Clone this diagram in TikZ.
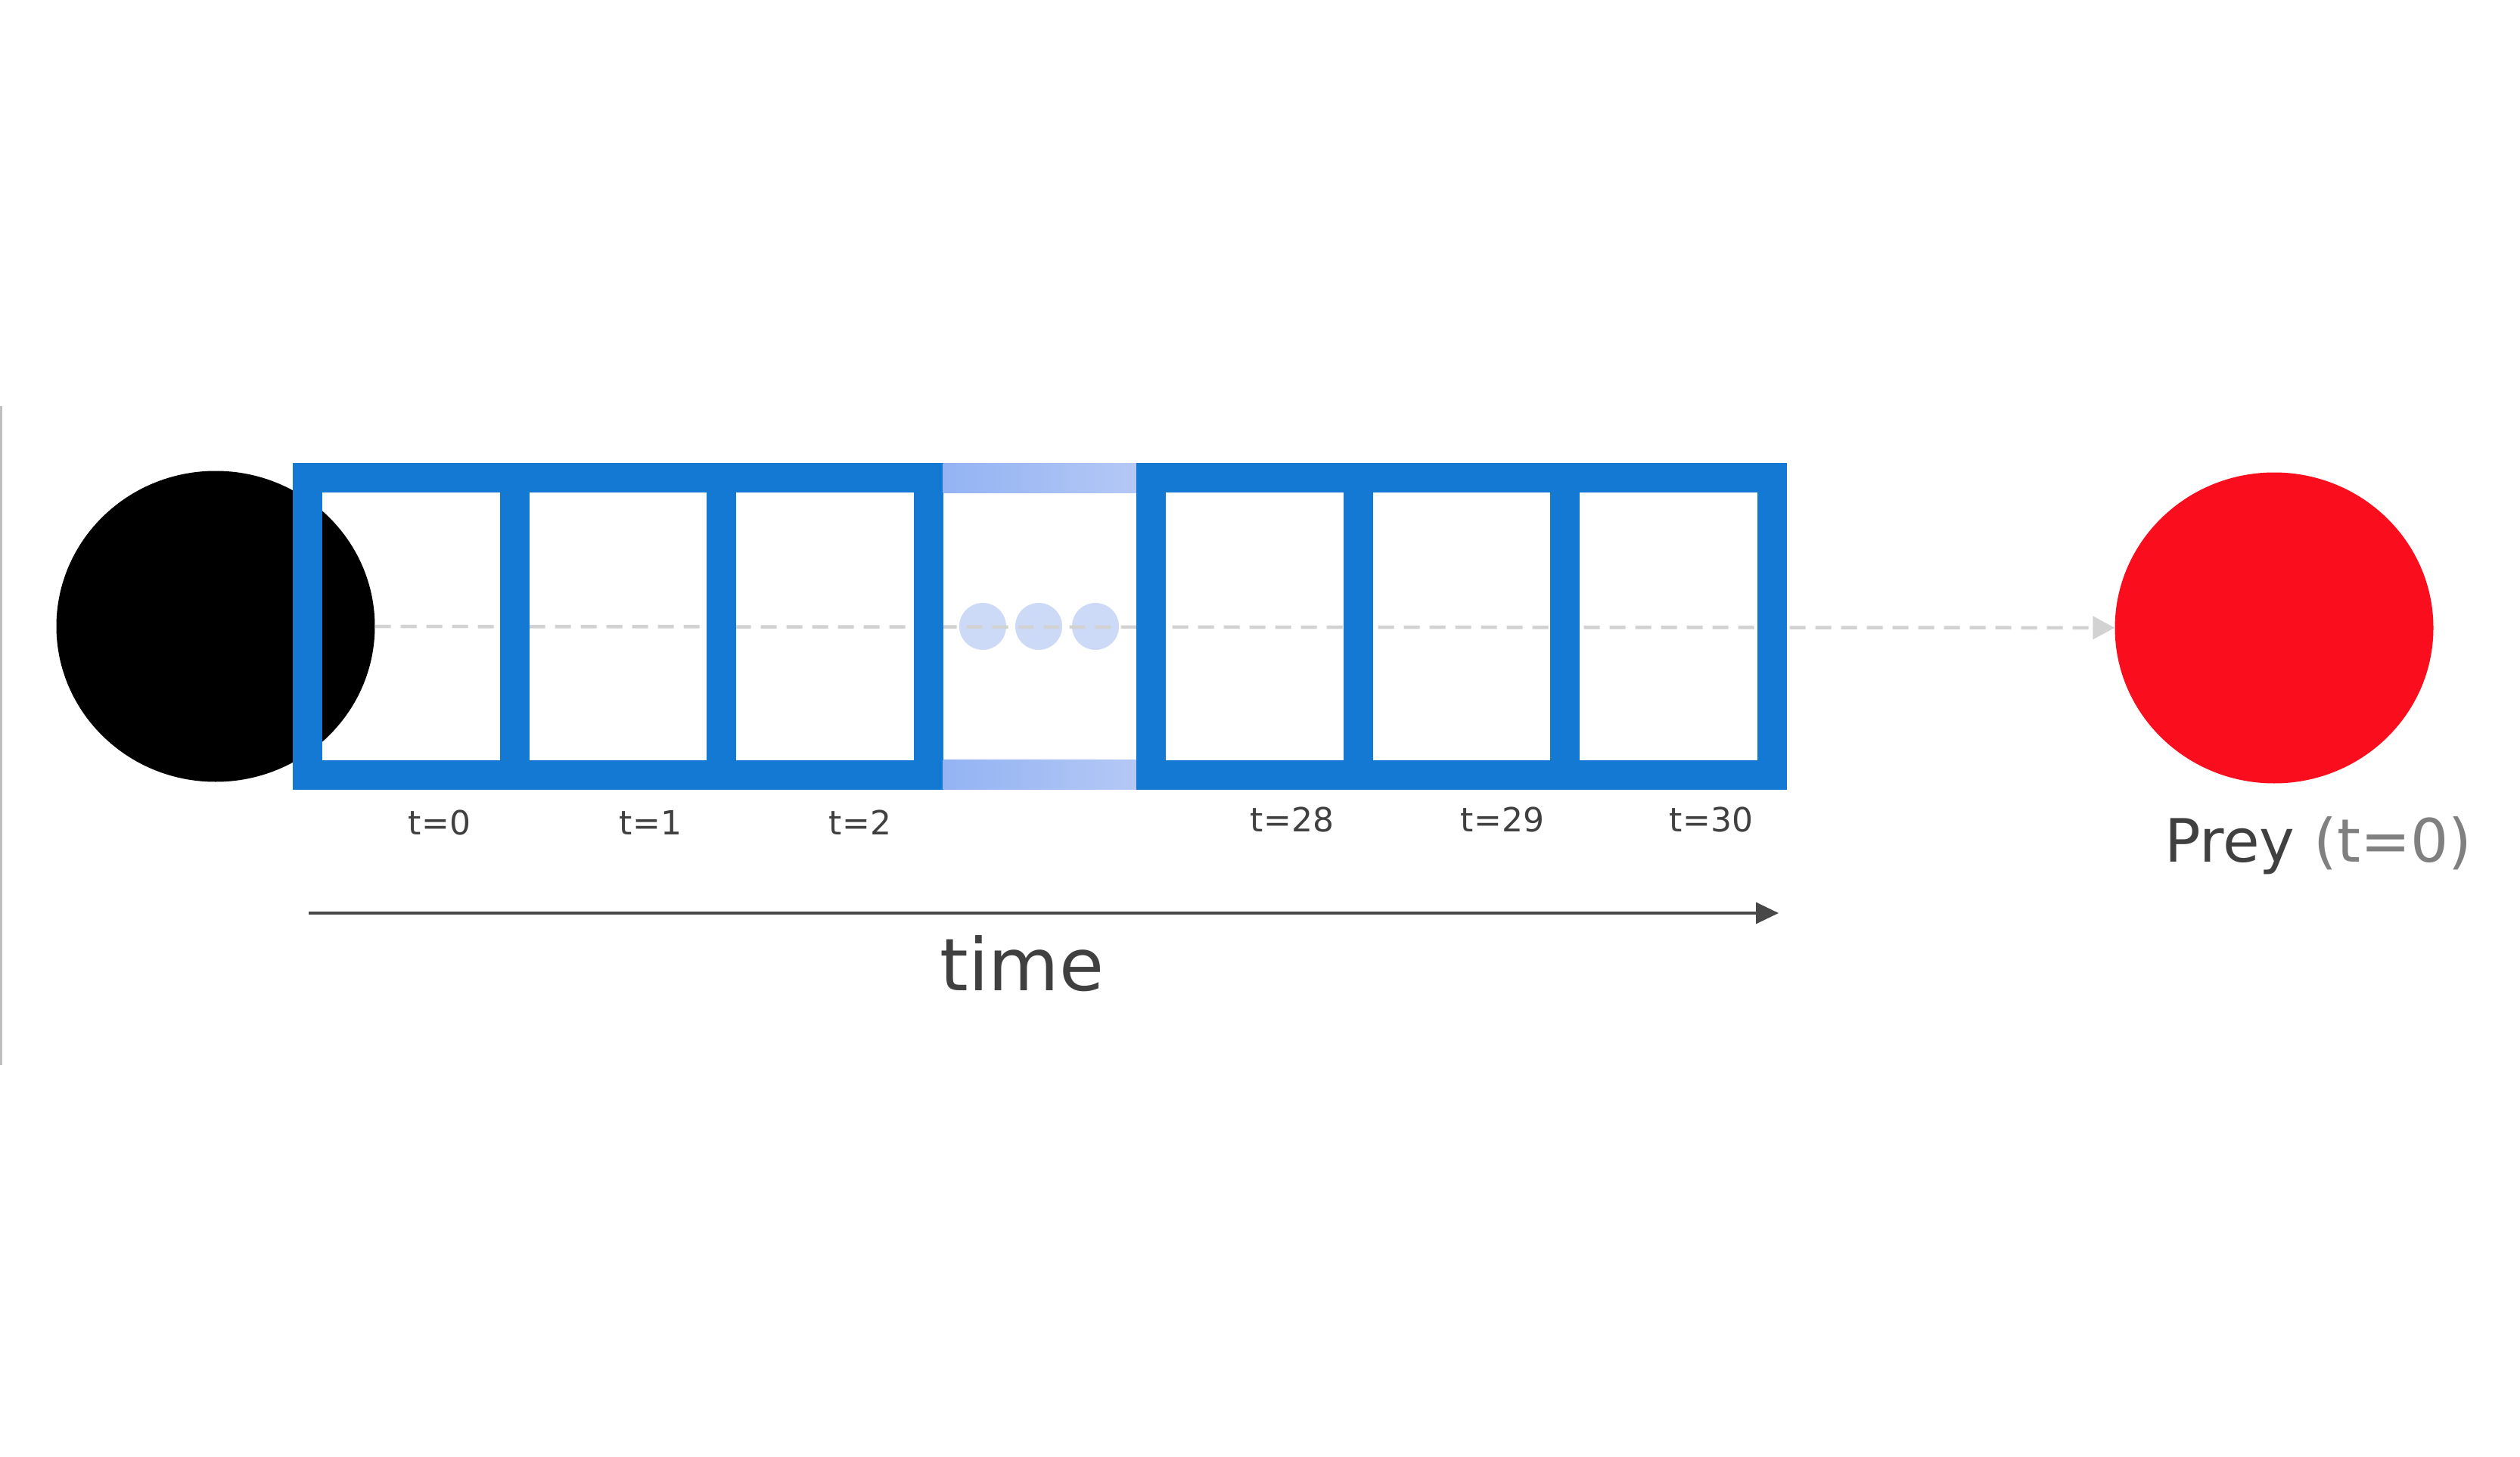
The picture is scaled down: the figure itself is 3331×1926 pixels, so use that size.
\documentclass[tikz,border=0pt]{standalone}
\usepackage{fontspec}
\setmainfont{DejaVu Sans}
\usetikzlibrary{arrows.meta,shapes.geometric}
\definecolor{frameblue}{RGB}{20,121,211}
\definecolor{gradL}{RGB}{147,179,243}
\definecolor{gradR}{RGB}{180,200,245}
\definecolor{dotblue}{RGB}{204,218,247}
\definecolor{preyred}{RGB}{250,13,29}
\definecolor{dashgrey}{RGB}{210,210,210}
\definecolor{txtdark}{RGB}{64,64,64}
\definecolor{txtgrey}{RGB}{128,128,128}
\definecolor{axisgrey}{RGB}{72,72,72}
\tikzset{
  cell/.style={draw=frameblue, line width=39pt, minimum width=273.5pt, minimum height=392.5pt, inner sep=0pt, shape=rectangle},
  ball/.style={ellipse, inner sep=0pt, minimum width=421pt, minimum height=411pt},
  tlabel/.style={anchor=base, text=txtdark, font=\fontsize{44}{50}\selectfont, inner sep=0pt},
  dotnode/.style={circle, fill=dotblue, inner sep=0pt, minimum size=62pt},
  band/.style={left color=gradL, right color=gradR, draw=none}
}
\begin{document}
\begin{tikzpicture}[x=1pt,y=-1pt]
\useasboundingbox (0,0) rectangle (3331,1926);
\fill[white] (0,0) rectangle (3331,1926);
% thin left rule
\draw[line width=2.5pt, color=black!25] (1.5,537) -- (1.5,1408);
% agents
\node[ball, fill=black] (hunter) at (285,828) {};
\node[ball, fill=preyred] (prey) at (3006,830) {};
% ellipsis dots
\node[dotnode] (d1) at (1299,828) {};
\node[dotnode] (d2) at (1373,828) {};
\node[dotnode] (d3) at (1448,828) {};
% dashed connector
\draw[dashgrey, line width=4.5pt, dash pattern=on 21pt off 13pt, -{Triangle[length=29pt,width=30pt]}] (hunter) -- (prey);
% cells
\node[cell] (c0) at (543.7,827.75) {};
\node[cell] (c1) at (817,827.75) {};
\node[cell] (c2) at (1090.3,827.75) {};
\node[cell] (c28) at (1658.5,827.75) {};
\node[cell] (c29) at (1932.2,827.75) {};
\node[cell] (c30) at (2205.5,827.75) {};
% gradient bands
\shade[band] (1246.5,612) rectangle (1501.5,651);
\shade[band] (1246.5,1004.5) rectangle (1501.5,1043.5);
% time labels
\node[tlabel] (l0) at (581,1103) {t=0};
\node[tlabel] (l1) at (860,1103) {t=1};
\node[tlabel] (l2) at (1137,1103) {t=2};
\node[tlabel] (l28) at (1708,1099) {t=28};
\node[tlabel] (l29) at (1986,1099) {t=29};
\node[tlabel] (l30) at (2262,1099) {t=30};
% time axis
\coordinate (ts) at (408,1207);
\coordinate (te) at (2351,1207);
\draw[axisgrey, line width=3.5pt, -{Triangle[length=30pt,width=28pt]}] (ts) -- (te);
\node[anchor=base, text=txtdark, font=\fontsize{96}{110}\selectfont, inner sep=0pt] (timelbl) at (1351,1309) {time};
% prey label
\node[anchor=base west, font=\fontsize{79}{90}\selectfont, inner sep=0pt] (preylbl) at (2861,1139) {\textcolor{txtdark}{Prey} \textcolor{txtgrey}{(t=0)}};
\end{tikzpicture}
\end{document}
